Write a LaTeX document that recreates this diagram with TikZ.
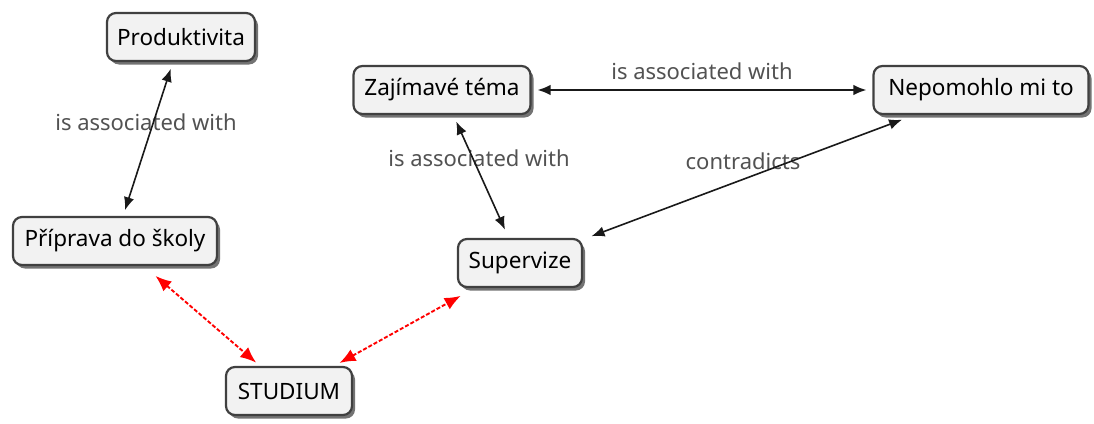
\documentclass[tikz,border=0pt]{standalone}
\usepackage{fontspec}
\setmainfont{Noto Sans}
\usetikzlibrary{arrows.meta,shadows}
\begin{document}
\begin{tikzpicture}[x=1pt,y=-1pt,
  concept/.style={draw=black!75, line width=2.2pt, rounded corners=9pt,
    fill=gray!10, minimum height=48pt, inner xsep=3pt, text=black,
    font=\fontsize{22.5}{26}\selectfont,
    drop shadow={shadow xshift=3pt, shadow yshift=-3.5pt, opacity=0.55, fill=black}},
  lbl/.style={text=black!68, font=\fontsize{22}{26}\selectfont, inner sep=0pt},
  link/.style={draw=black!90, line width=1.6pt, {Latex[length=13pt,width=10.5pt]}-{Latex[length=13pt,width=10.5pt]}},
  redlink/.style={draw=red, line width=1.9pt, dash pattern=on 4pt off 2pt,
    {Latex[length=16pt,width=13pt]}-{Latex[length=16pt,width=13pt]}}
]
\useasboundingbox (0,0) rectangle (1094,423);

\node[concept, minimum width=148pt] (prod) at (181,37) {Produktivita};
\node[concept, minimum width=204pt] (prip) at (115,241) {Příprava do školy};
\node[concept, minimum width=126pt] (stud) at (289,391) {STUDIUM};
\node[concept, minimum width=124pt] (sup)  at (520,263) {Supervize};
\node[concept, minimum width=177pt] (zaj)  at (442,90)  {Zajímavé téma};
\node[concept, minimum width=215pt] (nep)  at (981,90)  {Nepomohlo mi to};

\node[lbl] (l1) at (146,122) {is associated with};
\node[lbl] (l2) at (479,158) {is associated with};
\node[lbl] (l3) at (702,71)  {is associated with};
\node[lbl] (l4) at (743,161) {contradicts};

\draw[link, shorten <=7pt, shorten >=6pt] (prod) -- (prip);
\draw[link, shorten <=7pt, shorten >=9pt] (zaj) -- (sup);
\draw[link, shorten <=6pt, shorten >=6pt] (zaj) -- (nep);
\draw[link, shorten <=9pt, shorten >=13pt] (sup) -- (nep);
\draw[redlink, shorten <=15pt, shorten >=5pt] (prip) -- (stud);
\draw[redlink, shorten <=6pt, shorten >=16pt] (stud) -- (sup);
\end{tikzpicture}
\end{document}
